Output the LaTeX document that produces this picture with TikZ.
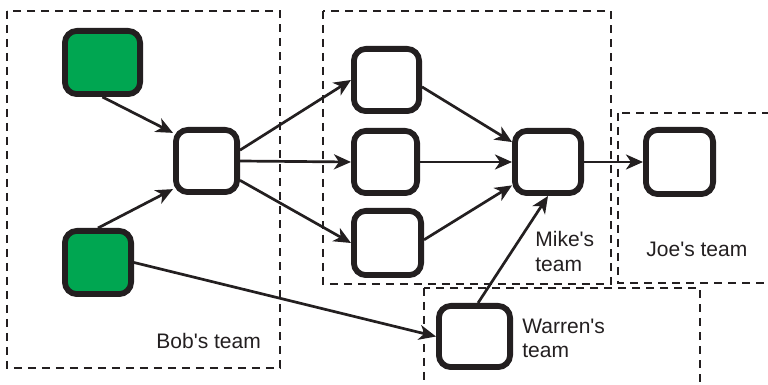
\documentclass[tikz,border=0pt]{standalone}
\usepackage{fontspec}
\newfontfamily\labfont{Liberation Sans}
\usetikzlibrary{arrows.meta}
\definecolor{ink}{RGB}{35,31,32}
\definecolor{grn}{RGB}{0,166,81}
\begin{document}
\begin{tikzpicture}[x=0.5pt,y=-0.5pt,
  box/.style 2 args={draw=ink, line width=2.9pt, rounded corners=6pt, inner sep=0pt, fill=white,
    minimum width=#1pt, minimum height=#2pt},
  gbox/.style={fill=grn},
  team/.style={draw=ink, line width=1.4pt, dash pattern=on 4pt off 3pt},
  arr/.style={draw=ink, line width=1.35pt, -{Stealth[length=8.5pt,width=7.5pt,inset=2.5pt]}},
  lbl/.style={inner sep=0pt, anchor=base west, align=left, text=ink,
    font=\labfont\fontsize{10.5}{12.5}\selectfont}]
\useasboundingbox (0,0) rectangle (768,385);
\fill[white] (0,0) rectangle (768,385);
\clip (0,0) rectangle (768,385);
% team areas
\draw[team] (7,11) rectangle (280,368);
\draw[team] (323,11) rectangle (611,284);
\draw[team] (618,113) rectangle (790,283);
\draw[team] (424,288) rectangle (700,400);
% labels
\node[lbl] (tbob) at (156,349) {Bob's team};
\node[lbl] (tmike) at (535,272) {Mike's\\team};
\node[lbl] (tjoe) at (646,257) {Joe's team};
\node[lbl] (twarren) at (522,358) {Warren's\\team};
% boxes
\node[box={37.6}{31.6}, gbox] (g1) at (102.5,62.5) {};
\node[box={33.1}{31.6}, gbox] (g2) at (98,262.5) {};
\node[box={30.6}{31.1}] (hub) at (206.5,161) {};
\node[box={32.6}{31.1}] (m1) at (386.5,80) {};
\node[box={31.6}{31.1}] (m2) at (385.5,162) {};
\node[box={33.6}{32.1}] (m3) at (387.5,243) {};
\node[box={33.1}{31.1}] (rhub) at (548,162) {};
\node[box={33.6}{32.1}] (joe) at (679.5,162) {};
\node[box={35.6}{30.6}] (w) at (474.5,336.5) {};
% connectors
\draw[arr] (g1.south) -- (hub.140);
\draw[arr] (g2.north) -- (hub.220);
\draw[arr] (g2.east) -- (w.west);
\draw[arr] (hub.18) -- (m1.west);
\draw[arr] (hub.east) -- (m2.west);
\draw[arr] (hub.-30) -- (m3.west);
\draw[arr] (m1.-11) -- (rhub.151);
\draw[arr] (m2.east) -- (rhub.west);
\draw[arr] (m3.5) -- (rhub.213);
\draw[arr] (w.84) -- (rhub.south);
\draw[arr] (rhub.east) -- (joe.west);
\end{tikzpicture}
\end{document}
